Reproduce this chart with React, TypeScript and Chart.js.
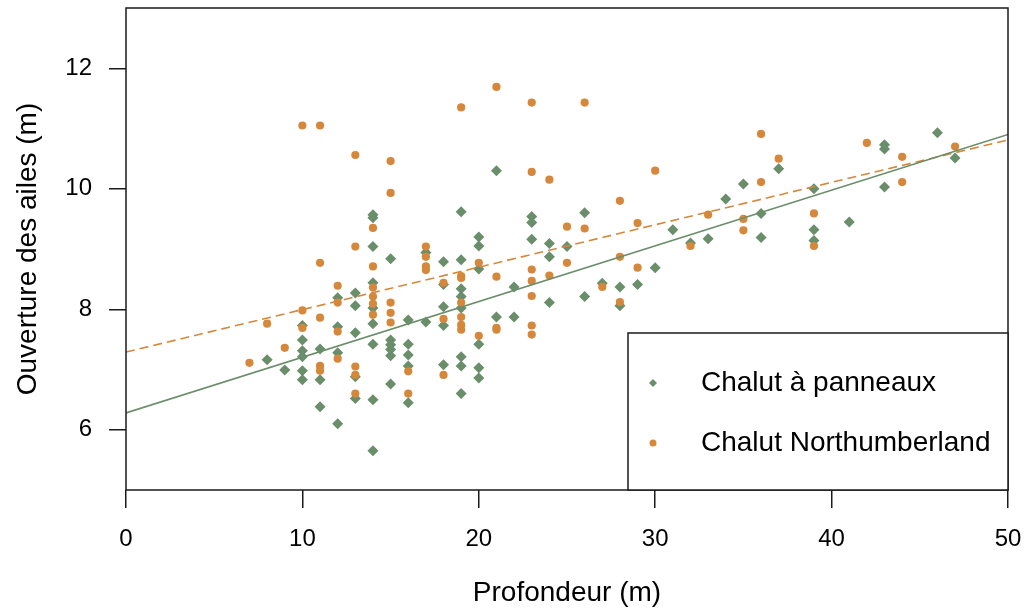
import React, { useEffect, useRef } from 'react';
import { Chart, registerables } from 'chart.js';

Chart.register(...registerables);

// Depth (m) vs wing spread (m)
const PANNEAUX: [number, number][] = [
  [8, 7.16], [9, 6.99],
  [10, 7.73], [10, 7.49], [10, 7.31], [10, 7.21], [10, 6.98], [10, 6.83],
  [11, 7.34], [11, 6.83], [11, 6.38],
  [12, 8.19], [12, 7.71], [12, 7.28], [12, 6.10],
  [13, 8.27], [13, 8.06], [13, 7.61], [13, 6.88], [13, 6.52],
  [14, 9.57], [14, 9.52], [14, 9.04], [14, 8.44], [14, 8.02], [14, 7.76], [14, 7.42], [14, 6.50], [14, 5.65],
  [15, 8.84], [15, 7.49], [15, 7.41], [15, 7.33], [15, 7.23], [15, 6.76],
  [16, 7.82], [16, 7.42], [16, 7.24], [16, 7.06], [16, 6.45],
  [17, 8.94], [17, 7.79],
  [18, 8.79], [18, 8.41], [18, 8.04], [18, 7.73], [18, 7.08],
  [19, 9.62], [19, 8.82], [19, 8.34], [19, 8.21], [19, 8.02], [19, 7.21], [19, 7.06], [19, 6.60],
  [20, 9.20], [20, 9.05], [20, 8.67], [20, 7.42], [20, 7.03], [20, 6.86],
  [21, 10.30], [21, 7.87],
  [22, 8.37], [22, 7.87],
  [23, 9.54], [23, 9.44], [23, 9.16],
  [24, 9.09], [24, 8.87], [24, 8.11],
  [25, 9.04],
  [26, 9.60], [26, 8.21],
  [27, 8.43],
  [28, 8.37], [28, 8.06],
  [29, 8.41],
  [30, 8.69],
  [31, 9.32],
  [32, 9.10],
  [33, 9.17],
  [34, 9.83],
  [35, 10.08],
  [36, 9.59], [36, 9.19],
  [37, 10.33],
  [39, 10.00], [39, 9.32], [39, 9.14],
  [41, 9.45],
  [43, 10.73], [43, 10.66], [43, 10.03],
  [46, 10.93],
  [47, 10.51],
];

const NORTHUMBERLAND: [number, number][] = [
  [7, 7.11], [8, 7.76], [9, 7.36],
  [10, 11.05], [10, 7.98], [10, 7.69],
  [11, 11.05], [11, 8.77], [11, 7.86], [11, 7.06], [11, 6.98],
  [12, 8.39], [12, 8.11], [12, 7.63], [12, 7.18],
  [13, 10.56], [13, 9.04], [13, 7.05], [13, 6.91], [13, 6.60],
  [14, 9.35], [14, 8.71], [14, 8.36], [14, 8.21], [14, 8.09], [14, 7.91],
  [15, 10.46], [15, 9.93], [15, 8.11], [15, 7.94], [15, 7.78],
  [16, 6.97], [16, 6.60],
  [17, 9.04], [17, 8.87], [17, 8.71], [17, 8.65],
  [18, 8.44], [18, 7.84], [18, 6.91],
  [19, 11.35], [19, 8.55], [19, 8.52], [19, 8.11], [19, 7.87], [19, 7.74], [19, 7.66],
  [20, 8.77], [20, 7.56],
  [21, 11.69], [21, 8.54], [21, 7.69], [21, 7.66],
  [23, 11.43], [23, 10.28], [23, 8.66], [23, 8.47], [23, 8.22], [23, 7.73], [23, 7.58],
  [24, 10.15], [24, 8.56],
  [25, 9.37], [25, 8.77],
  [26, 11.43], [26, 9.34],
  [27, 8.37],
  [28, 9.80], [28, 8.87], [28, 8.12],
  [29, 9.43], [29, 8.69],
  [30, 10.30],
  [32, 9.05],
  [33, 9.57],
  [35, 9.50], [35, 9.31],
  [36, 10.91], [36, 10.11],
  [37, 10.50],
  [39, 9.59], [39, 9.05],
  [42, 10.76],
  [44, 10.53], [44, 10.11],
  [47, 10.70],
];

// Fitted regression lines (end points)
const FIT_X = [0, 50];
const FIT_PANNEAUX_Y = [6.28, 10.9];
const FIT_NORTHUMBERLAND_Y = [7.29, 10.81];

const X_TICKS = [0, 10, 20, 30, 40, 50];
const Y_TICKS = [6, 8, 10, 12];

const SERIES_LABELS = ['Chalut à panneaux', 'Chalut Northumberland'];
const X_TITLE = 'Profondeur (m)';
const Y_TITLE = 'Ouverture des ailes (m)';

const GREEN = '#6a8e6a';
const ORANGE = '#d5883c';
const FONT = 'Liberation Sans, Arial, Helvetica, sans-serif';

const framePlugin = {
  id: 'frameAndLegend',
  afterDraw(chart: any) {
    const { ctx, chartArea } = chart;
    const { left, right, top, bottom } = chartArea;
    ctx.save();
    ctx.strokeStyle = '#1a1a1a';
    ctx.lineWidth = 1.5;
    ctx.strokeRect(left, top, right - left, bottom - top);

    // legend box (bottom-right inside plot)
    const lx = 628, ly = 333;
    ctx.fillStyle = '#ffffff';
    ctx.fillRect(lx, ly, right - lx, bottom - ly);
    ctx.strokeRect(lx, ly, right - lx, bottom - ly);

    const rows = [383, 443];
    const ds = chart.data.datasets;
    const dsPan = ds.find((d: any) => d.label === SERIES_LABELS[0]);
    const dsNor = ds.find((d: any) => d.label === SERIES_LABELS[1]);
    ctx.font = `28px ${FONT}`;
    ctx.textBaseline = 'middle';
    ctx.textAlign = 'left';
    const sx = 653;
    // diamond
    ctx.fillStyle = dsPan.backgroundColor;
    ctx.beginPath();
    const r = 4;
    ctx.moveTo(sx - r, rows[0]);
    ctx.lineTo(sx, rows[0] - r);
    ctx.lineTo(sx + r, rows[0]);
    ctx.lineTo(sx, rows[0] + r);
    ctx.closePath();
    ctx.fill();
    // circle
    ctx.fillStyle = dsNor.backgroundColor;
    ctx.beginPath();
    ctx.arc(sx, rows[1], 3.5, 0, Math.PI * 2);
    ctx.fill();

    ctx.fillStyle = '#000';
    ctx.fillText(dsPan.label, 701, rows[0]);
    ctx.fillText(dsNor.label, 701, rows[1]);
    ctx.restore();
  },
};

export default function App() {
  const canvasRef = useRef<HTMLCanvasElement | null>(null);

  useEffect(() => {
    if (!canvasRef.current) return;
    Chart.defaults.font.family = FONT;
    const chart = new Chart(canvasRef.current, {
      type: 'scatter',
      data: {
        datasets: [
          {
            label: 'fitA',
            data: FIT_X.map((x, i) => ({ x, y: FIT_PANNEAUX_Y[i] })),
            showLine: true,
            borderColor: GREEN,
            borderWidth: 1.6,
            pointRadius: 0,
            order: 0,
          } as any,
          {
            label: 'fitB',
            data: FIT_X.map((x, i) => ({ x, y: FIT_NORTHUMBERLAND_Y[i] })),
            showLine: true,
            borderColor: ORANGE,
            borderWidth: 1.6,
            borderDash: [9, 5],
            pointRadius: 0,
            order: 1,
          } as any,
          {
            label: SERIES_LABELS[1],
            data: NORTHUMBERLAND.map(([x, y]) => ({ x, y })),
            backgroundColor: ORANGE,
            borderWidth: 0,
            pointStyle: 'circle',
            pointRadius: 4.1,
            order: 2,
          } as any,
          {
            label: SERIES_LABELS[0],
            data: PANNEAUX.map(([x, y]) => ({ x, y })),
            backgroundColor: GREEN,
            borderWidth: 0,
            pointStyle: 'rectRot',
            pointRadius: 5.5,
            order: 3,
          } as any,
        ],
      },
      options: {
        responsive: false,
        animation: false,
        events: [],
        layout: { padding: { left: 0, right: 23, top: 8, bottom: 0 } },
        plugins: {
          legend: { display: false },
          tooltip: { enabled: false },
        },
        scales: {
          x: {
            type: 'linear',
            min: 0,
            max: 50,
            afterBuildTicks: (s: any) => {
              s.ticks = X_TICKS.map((v) => ({ value: v }));
            },
            afterFit: (s: any) => {
              s.height = 124;
              s.paddingLeft = 0;
              s.paddingRight = 0;
              s.paddingTop = 0;
              s.paddingBottom = 0;
            },
            ticks: {
              color: '#000',
              font: { size: 24, family: FONT },
              padding: 17,
              maxRotation: 0,
              autoSkip: false,
            },
            grid: {
              drawOnChartArea: false,
              drawTicks: true,
              tickLength: 18,
              color: '#1a1a1a',
              lineWidth: 1.5,
            },
            border: { display: false },
            title: {
              display: true,
              text: X_TITLE,
              color: '#000',
              font: { size: 28, family: FONT },
              padding: { top: 0, bottom: 4 },
            },
          },
          y: {
            type: 'linear',
            min: 5,
            max: 13,
            afterBuildTicks: (s: any) => {
              s.ticks = Y_TICKS.map((v) => ({ value: v }));
            },
            afterFit: (s: any) => {
              s.width = 126;
              s.paddingLeft = 0;
              s.paddingRight = 0;
              s.paddingTop = 0;
              s.paddingBottom = 0;
            },
            ticks: {
              color: '#000',
              font: { size: 24, family: FONT },
              padding: 17,
              autoSkip: false,
            },
            grid: {
              drawOnChartArea: false,
              drawTicks: true,
              tickLength: 17,
              color: '#1a1a1a',
              lineWidth: 1.5,
            },
            border: { display: false },
            title: {
              display: true,
              text: Y_TITLE,
              color: '#000',
              font: { size: 28, family: FONT },
              padding: { top: 11, bottom: 0 },
            },
          },
        },
      },
      plugins: [framePlugin],
    });
    return () => chart.destroy();
  }, []);

  return (
    <div style={{ position: 'absolute', left: 0, top: 0, width: 1031, height: 614, background: '#fff' }}>
      <canvas ref={canvasRef} width={1031} height={614} />
    </div>
  );
}
